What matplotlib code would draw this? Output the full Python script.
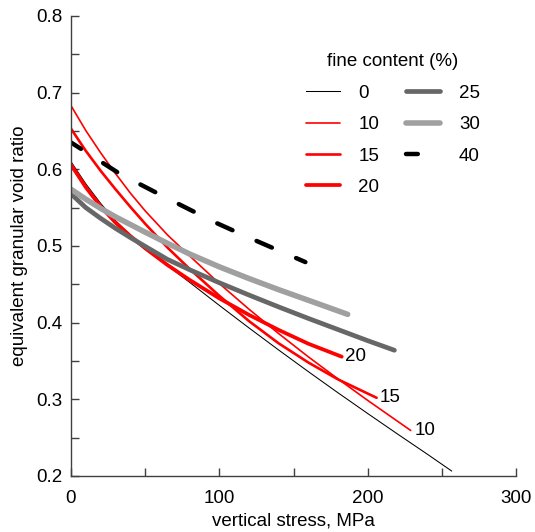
"""
Equivalent granular void ratio against vertical stress for several fine contents.
"""

from __future__ import annotations

import matplotlib
matplotlib.use("Agg")
import matplotlib.pyplot as plt

plt.rcParams["font.family"] = ["Liberation Sans", "DejaVu Sans"]
plt.rcParams["lines.scale_dashes"] = False

# fine content 0 %
stress_0 = [0, 10, 20, 30, 40, 50, 65, 80, 100, 120, 140, 160, 180, 200, 220, 240, 256.6]
void_0 = [0.610, 0.581, 0.5555, 0.533, 0.514, 0.498, 0.4745, 0.4525, 0.4225, 0.3931,
          0.3643, 0.3361, 0.3085, 0.2815, 0.2549, 0.2287, 0.2065]

# fine content 10 %
stress_10 = [0, 10, 20, 30, 40, 50, 65, 80, 100, 120, 140, 160, 180, 200, 229]
void_10 = [0.683, 0.6505, 0.6215, 0.5945, 0.569, 0.5458, 0.5145, 0.487, 0.451,
           0.4175, 0.3857, 0.3554, 0.3266, 0.2986, 0.2594]

# fine content 15 %
stress_15 = [0, 10, 20, 30, 40, 50, 65, 80, 100, 120, 140, 160, 180, 206]
void_15 = [0.653, 0.624, 0.598, 0.574, 0.551, 0.529, 0.498, 0.470, 0.435, 0.402,
           0.373, 0.348, 0.326, 0.302]

# fine content 20 %
stress_20 = [0, 10, 20, 30, 40, 50, 65, 80, 100, 120, 140, 160, 182.5]
void_20 = [0.606, 0.5765, 0.5515, 0.5305, 0.513, 0.497, 0.4752, 0.4557, 0.4317,
           0.4101, 0.3905, 0.3725, 0.3556]

# fine content 25 %
stress_25 = [0, 10, 20, 30, 40, 50, 65, 80, 100, 120, 140, 160, 180, 200, 218]
void_25 = [0.568, 0.550, 0.536, 0.523, 0.511, 0.4995, 0.4825, 0.469, 0.452, 0.436,
           0.4205, 0.4055, 0.391, 0.3765, 0.364]

# fine content 30 %
stress_30 = [0, 10, 20, 30, 40, 50, 65, 80, 100, 120, 140, 160, 186.5]
void_30 = [0.574, 0.561, 0.549, 0.538, 0.528, 0.518, 0.5035, 0.4895, 0.4728,
           0.4575, 0.443, 0.4292, 0.4108]

# fine content 40 %
stress_40 = [0, 33, 63, 98, 121, 158]
void_40 = [0.635, 0.594, 0.564, 0.530, 0.510, 0.479]

FONT = 13.5


def main() -> None:
    fig = plt.figure(figsize=(5.35, 5.32), dpi=100)
    ax = fig.add_axes([0.1327, 0.1053, 0.8318, 0.8647])

    round_caps = dict(solid_capstyle="round", dash_capstyle="round")
    l0, = ax.plot(stress_0, void_0, color="black", lw=0.75, label="0")
    l10, = ax.plot(stress_10, void_10, color="red", lw=1.2, label="10", **round_caps)
    l15, = ax.plot(stress_15, void_15, color="red", lw=1.9, label="15", **round_caps)
    l20, = ax.plot(stress_20, void_20, color="red", lw=2.7, label="20", **round_caps)
    l25, = ax.plot(stress_25, void_25, color="#676767", lw=3.4, label="25", **round_caps)
    l30, = ax.plot(stress_30, void_30, color="#a0a0a0", lw=4.0, label="30", **round_caps)
    l40, = ax.plot(stress_40, void_40, color="black", lw=3.2, label="40",
                   linestyle=(3.5, (12, 19)), **round_caps)

    # curve end labels
    for xs, ys, name in ((stress_20, void_20, "20"),
                         (stress_15, void_15, "15"),
                         (stress_10, void_10, "10")):
        ax.annotate(name, xy=(xs[-1], ys[-1]), xytext=(2.5, 0),
                    textcoords="offset points", va="center", ha="left",
                    fontsize=FONT)

    ax.set_xlim(0, 300)
    ax.set_ylim(0.2, 0.8)
    ax.set_xticks([0, 100, 200, 300])
    ax.set_xticks([50, 150, 250], minor=True)
    ax.set_yticks([0.2, 0.3, 0.4, 0.5, 0.6, 0.7, 0.8])
    ax.set_yticks([0.25, 0.35, 0.45, 0.55, 0.65, 0.75], minor=True)
    ax.set_yticklabels(["0.2", "0.3", "0.4", "0.5", "0.6", "0.7", "0.8"])

    ax.spines[["top", "right"]].set_visible(False)
    for side in ("left", "bottom"):
        ax.spines[side].set_color("#404040")
        ax.spines[side].set_linewidth(1.0)
    ax.tick_params(which="both", direction="in", color="#404040", width=1.0,
                   labelsize=FONT)
    ax.tick_params(which="major", length=6)
    ax.tick_params(which="minor", length=5.5)
    ax.tick_params(axis="x", which="major", pad=10)
    ax.tick_params(axis="y", which="major", pad=6)

    ax.set_xlabel("vertical stress, MPa", fontsize=FONT, labelpad=4)
    ax.set_ylabel("equivalent granular void ratio", fontsize=FONT, labelpad=6)

    handles = [l0, l10, l15, l20, l25, l30, l40]
    ax.legend(handles=handles, labels=[h.get_label() for h in handles],
              ncols=2, frameon=False, title="fine content (%)",
              title_fontsize=FONT, fontsize=FONT,
              loc="upper left", bbox_to_anchor=(0.5065, 0.939),
              borderpad=0, handlelength=1.8, handletextpad=1.0,
              columnspacing=1.45, labelspacing=0.76)

    fig.savefig("out.png", dpi=100)


if __name__ == "__main__":
    main()
